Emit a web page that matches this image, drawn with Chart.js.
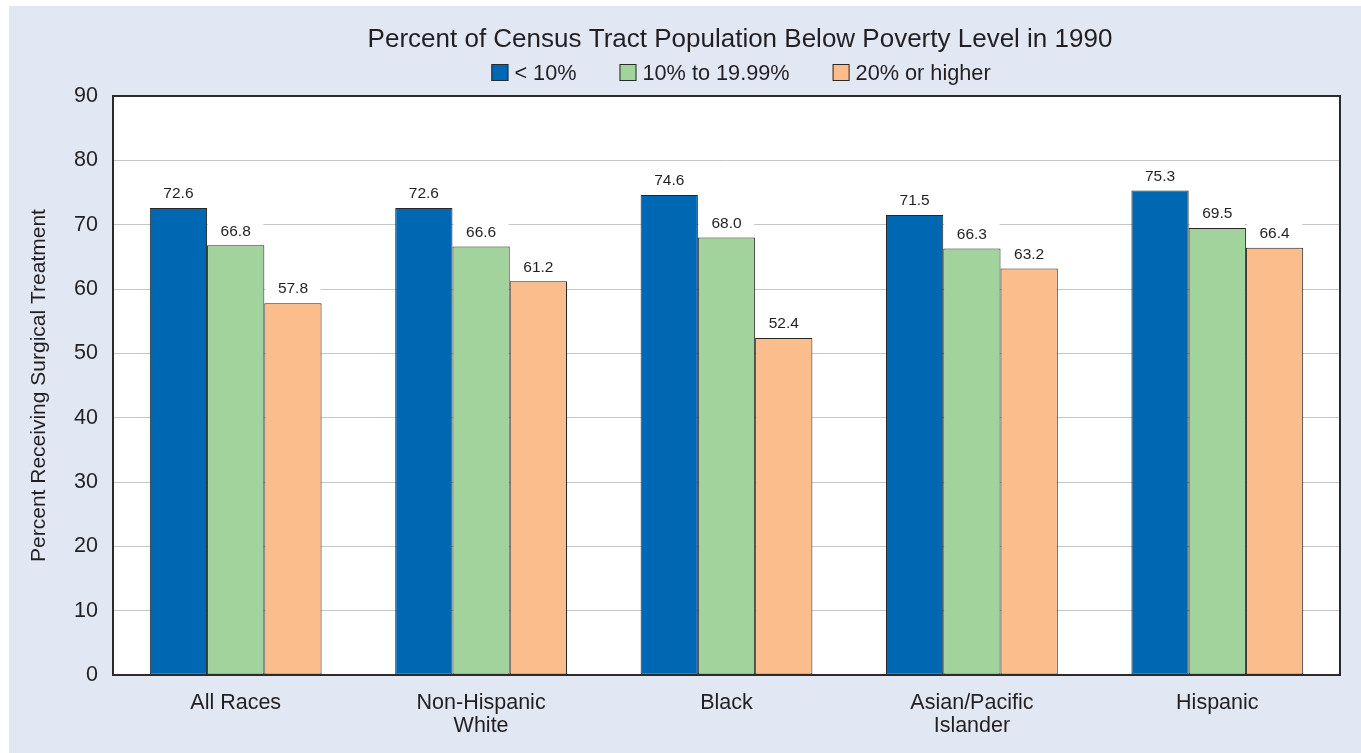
<!DOCTYPE html>
<html>
<head>
<meta charset="utf-8">
<script src="https://cdn.jsdelivr.net/npm/chart.js@4.4.1/dist/chart.umd.min.js"></script>
<style>
html,body{margin:0;padding:0;background:#ffffff;overflow:hidden;}
#wrap{position:absolute;left:0;top:0;width:1361px;height:753px;}
</style>
</head>
<body>
<div id="wrap"><canvas id="c"></canvas></div>
<script>
// ---- data ----
const categories = [["All Races"], ["Non-Hispanic", "White"], ["Black"], ["Asian/Pacific", "Islander"], ["Hispanic"]];
const seriesNames = ["< 10%", "10% to 19.99%", "20% or higher"];
const below10 = [72.6, 72.6, 74.6, 71.5, 75.3];
const from10to20 = [66.8, 66.6, 68.0, 66.3, 69.5];
const above20 = [57.8, 61.2, 52.4, 63.2, 66.4];
const yTicks = [0, 10, 20, 30, 40, 50, 60, 70, 80, 90];
const chartTitle = "Percent of Census Tract Population Below Poverty Level in 1990";
const yAxisTitle = "Percent Receiving Surgical Treatment";

const FONT = "'Liberation Sans', Arial, Helvetica, sans-serif";
const INK = "#231f20";
const colors = ["#0068b3", "#a3d39c", "#fbbd8b"];

// background panel + white plot area
const backdrop = {
  id: "backdrop",
  beforeDraw(chart) {
    const ctx = chart.ctx, a = chart.chartArea;
    ctx.save();
    ctx.fillStyle = "#e1e7f3";
    ctx.fillRect(9, 6, chart.width - 9, chart.height - 6);
    ctx.fillStyle = "#ffffff";
    ctx.fillRect(a.left, a.top, a.right - a.left, a.bottom - a.top);
    ctx.restore();
  }
};

// title + legend header
const header = {
  id: "header",
  afterDraw(chart) {
    const ctx = chart.ctx;
    ctx.save();
    ctx.fillStyle = INK;
    ctx.font = "26px " + FONT;
    ctx.textAlign = "center";
    ctx.textBaseline = "middle";
    ctx.fillText(chartTitle, 740, 40);
    // legend
    ctx.font = "21.7px " + FONT;
    const box = 17, gapBox = 6, gapItem = 43;
    const widths = chart.data.datasets.map(d => ctx.measureText(d.label).width);
    let total = 0;
    widths.forEach((w, i) => { total += box + gapBox + w + (i < widths.length - 1 ? gapItem : 0); });
    let x = 741 - total / 2;
    ctx.textAlign = "left";
    chart.data.datasets.forEach((d, i) => {
      ctx.fillStyle = d.backgroundColor;
      ctx.fillRect(x, 64, box, box);
      ctx.strokeStyle = "#2a2a2a";
      ctx.lineWidth = 1;
      ctx.strokeRect(x + 0.5, 64.5, box - 1, box - 1);
      ctx.fillStyle = INK;
      ctx.fillText(d.label, x + box + gapBox, 74);
      x += box + gapBox + widths[i] + gapItem;
    });
    ctx.restore();
  }
};

// value labels + plot frame
const valueLabels = {
  id: "valueLabels",
  afterDatasetsDraw(chart) {
    const ctx = chart.ctx, a = chart.chartArea;
    ctx.save();
    ctx.font = "15.5px " + FONT;
    ctx.textAlign = "center";
    ctx.textBaseline = "middle";
    chart.data.datasets.forEach((ds, di) => {
      const meta = chart.getDatasetMeta(di);
      meta.data.forEach((bar, i) => {
        const half = bar.width / 2;
        ctx.fillStyle = "#ffffff";
        ctx.fillRect(bar.x - half + 1, bar.y - 27, bar.width - 2, 26);
        ctx.fillStyle = INK;
        ctx.fillText(ds.data[i].toFixed(1), bar.x, bar.y - 14);
      });
    });
    ctx.strokeStyle = "#2b2b2b";
    ctx.lineWidth = 2;
    ctx.strokeRect(a.left, a.top, a.right - a.left, a.bottom - a.top);
    ctx.restore();
  }
};

const seriesValues = [below10, from10to20, above20];

new Chart(document.getElementById("c"), {
  type: "bar",
  data: {
    labels: categories,
    datasets: seriesNames.map((name, i) => ({
      label: name,
      data: seriesValues[i],
      backgroundColor: colors[i],
      borderColor: "#262626",
      borderWidth: 1,
      borderSkipped: false,
      categoryPercentage: 0.7,
      barPercentage: 1.0
    }))
  },
  options: {
    responsive: true,
    maintainAspectRatio: false,
    animation: false,
    layout: { padding: { top: 96, right: 21, bottom: 0, left: 0 } },
    plugins: {
      legend: { display: false },
      title: { display: false },
      tooltip: { enabled: false }
    },
    scales: {
      x: {
        grid: { display: false, drawTicks: false },
        border: { display: false },
        ticks: {
          color: INK,
          font: { family: FONT, size: 21.5, lineHeight: 1.08 },
          padding: 16,
          maxRotation: 0,
          autoSkip: false
        },
        afterFit(scale) { scale.height = 78; }
      },
      y: {
        min: 0,
        max: 90,
        afterBuildTicks(scale) { scale.ticks = yTicks.map(v => ({ value: v })); },
        grid: { color: "#c6c6c6", lineWidth: 1, drawTicks: false },
        border: { display: false },
        ticks: {
          color: INK,
          font: { family: FONT, size: 21.5 },
          padding: 15
        },
        title: {
          display: true,
          text: yAxisTitle,
          color: INK,
          font: { family: FONT, size: 21 },
          padding: { top: 27, bottom: 0 }
        },
        afterFit(scale) { scale.width = 113; }
      }
    }
  },
  plugins: [backdrop, valueLabels, header]
});
</script>
</body>
</html>
